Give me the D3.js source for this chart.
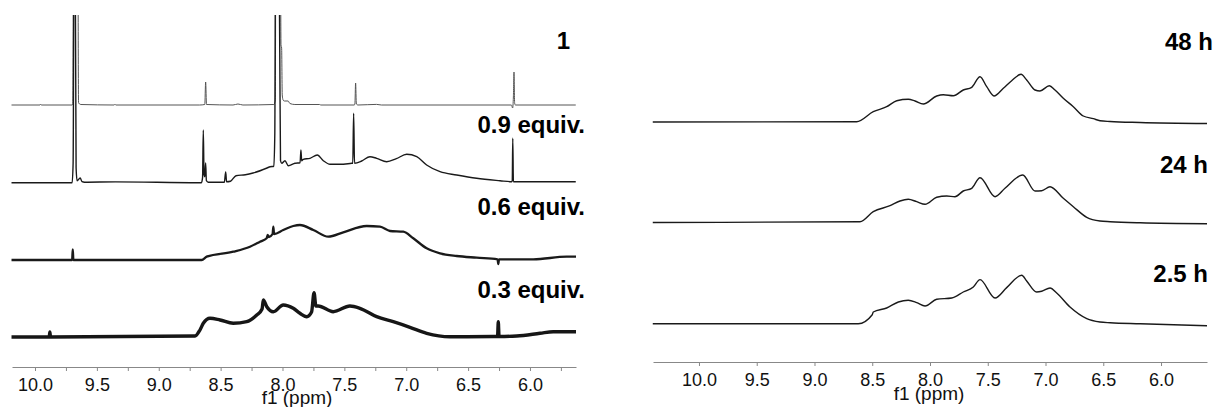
<!DOCTYPE html>
<html>
<head>
<meta charset="utf-8">
<script src="https://cdn.jsdelivr.net/npm/d3@7/dist/d3.min.js"></script>
<style>
  body { margin: 0; background: #fff; }
  svg { display: block; font-family: "Liberation Sans", Arial, Helvetica, sans-serif; }
</style>
</head>
<body>
<script>
//-----------------------------------------------------------------------------------
// data, [ppm, intensity] (intensity in baseline-relative units)
//-----------------------------------------------------------------------------------
var majorTicks = [10.0, 9.5, 9.0, 8.5, 8.0, 7.5, 7.0, 6.5, 6.0];
var minorTicks = [9.75, 9.25, 8.75, 8.25, 7.75, 7.25, 6.75, 6.25, 5.75];

var titrLabels = ["1", "0.9 equiv.", "0.6 equiv.", "0.3 equiv."];
var timeLabels = ["48 h", "24 h", "2.5 h"];

// pure compound 1
var spec1 = [[10.19,0],[9.96,0],[9.955,0.8],[9.95,0],[9.70,0],[9.695,1],[9.688,200],[9.655,200],[9.648,2],
  [9.63,0.5],[9.36,0],[9.354,0.8],[9.348,0],[8.67,0],[8.628,0.5],[8.621,23],[8.614,0.5],[8.40,0],
  [8.36,1],[8.32,0],[8.07,0.5],[8.058,5],[8.053,200],[8.018,200],[8.012,60],[8.007,57],[8.002,10],
  [7.995,5],[7.985,4],[7.955,4],[7.94,1.5],[7.90,0.5],[7.70,0.5],[7.69,0],[7.42,0],[7.415,1],
  [7.409,22],[7.403,1],[7.39,0],[7.24,0.6],[7.20,0],[6.15,0],[6.14,-3],[6.134,8],[6.129,33],
  [6.124,2],[6.118,0],[5.63,0]];

// 0.9 equiv.
var spec09 = [[10.19,0],[9.70,0],[9.692,20],[9.684,250],[9.676,250],[9.668,15],[9.66,2],[9.635,4.7],
  [9.62,1],[9.60,0.5],[9.35,0.8],[8.68,0],[8.655,0],[8.646,5],[8.640,52.7],[8.634,8],[8.628,6],
  [8.621,19.7],[8.615,2],[8.60,0.5],[8.47,0.5],[8.459,10.7],[8.452,1],[8.42,1.5],[8.376,7],[8.30,8],
  [8.238,9.7],[8.125,14.7],[8.10,16],[8.07,16.5],[8.062,50],[8.056,250],[8.030,250],[8.022,130],
  [8.016,22],[8.006,19.4],[7.980,22],[7.953,17],[7.899,19.4],[7.858,20],[7.851,32.7],[7.845,22],
  [7.832,23.4],[7.778,24.4],[7.719,27.7],[7.670,22],[7.616,18.4],[7.535,18.4],[7.441,19.4],
  [7.432,19.5],[7.425,69.4],[7.418,19.5],[7.360,21.7],[7.293,26],[7.239,24.4],[7.158,21],[7.08,24],
  [6.996,28.4],[6.915,26],[6.835,17.7],[6.727,11],[6.592,7.7],[6.431,4.4],[6.242,2],[6.148,1],
  [6.143,2],[6.139,44.4],[6.134,1],[6.10,1],[5.63,1]];

// 0.6 equiv.
var spec06 = [[10.19,0],[9.70,0],[9.695,10.7],[9.69,0],[8.653,0],[8.613,3.3],[8.398,8.3],[8.263,13.3],
  [8.182,18.3],[8.128,21.7],[8.12,25],[8.11,23],[8.08,26],[8.074,33.3],[8.068,26],[7.994,30],
  [7.913,34],[7.859,35],[7.751,30],[7.630,23.3],[7.509,27.7],[7.320,34],[7.212,33.3],[7.131,29],
  [7.024,28.3],[6.943,21.7],[6.835,11.7],[6.727,6.7],[6.592,4],[6.431,2.3],[6.262,0.7],[6.256,-4],
  [6.25,0.7],[5.973,0.7],[5.703,3.3],[5.628,3.3]];

// 0.3 equiv.
var spec03 = [[10.19,0],[9.885,0],[9.88,5],[9.875,0],[8.707,1],[8.667,7],[8.640,13.7],[8.586,18.7],
  [8.505,17],[8.398,13.7],[8.289,15.3],[8.208,22],[8.165,28],[8.155,37],[8.127,30.3],[8.074,25.3],
  [7.994,32],[7.913,28.7],[7.859,23.7],[7.804,20.3],[7.765,25],[7.745,44.3],[7.73,31],[7.711,31],
  [7.590,25.3],[7.455,31],[7.374,28.7],[7.239,20.3],[7.105,15.3],[6.970,9.7],[6.835,3.7],
  [6.646,0.3],[6.511,0.3],[6.262,0.5],[6.256,15.3],[6.25,0.5],[6.107,1],[5.919,3.7],[5.812,5.3],
  [5.628,5.3]];

// 48 h
var spec48 = [[10.40,0],[8.635,0.3],[8.491,10.3],[8.375,15.3],[8.288,21.3],[8.188,22.7],[8.130,21],
  [8.058,18],[7.942,26],[7.885,27.3],[7.798,26.3],[7.712,32],[7.639,34.7],[7.567,45.3],[7.509,35.3],
  [7.446,26],[7.365,33.7],[7.293,41.3],[7.212,47.7],[7.163,42],[7.091,32],[7.048,31],[6.967,36.3],
  [6.918,32],[6.846,23.7],[6.759,15.3],[6.673,6],[6.586,3.3],[6.528,1.3],[6.442,0.5],[6.182,-0.5],
  [5.602,-1.5]];

// 24 h
var spec24 = [[10.40,0],[8.606,0.8],[8.491,10.8],[8.346,16.8],[8.260,21.5],[8.188,23.2],[8.115,20.8],
  [8.043,18.2],[7.942,25.2],[7.855,26.5],[7.784,25.8],[7.712,31.5],[7.639,34.2],[7.567,44.8],
  [7.437,25.8],[7.351,34.2],[7.197,47.5],[7.091,31.5],[7.033,31.8],[6.961,35.8],[6.846,24.2],
  [6.759,15.8],[6.643,5.2],[6.528,1.5],[6.44,0.8],[6.18,-0.3],[5.602,-1.2]];

// 2.5 h
var spec25 = [[10.40,0],[8.621,0],[8.50,9],[8.491,11.8],[8.375,15.8],[8.274,21.8],[8.188,23.5],
  [8.115,21.2],[8.043,17.8],[7.942,24.5],[7.812,25.8],[7.712,31.8],[7.625,36.8],[7.567,44.2],
  [7.437,25.8],[7.336,36.2],[7.206,48.5],[7.163,42.8],[7.077,31.8],[7.033,32.5],[6.961,35.8],
  [6.903,30.8],[6.788,16.8],[6.643,5.2],[6.528,1.8],[6.44,1],[6.18,0],[5.602,-2]];

var titrSpectra = [spec1, spec09, spec06, spec03];
var timeSpectra = [spec48, spec24, spec25];

//-----------------------------------------------------------------------------------
// layout
//-----------------------------------------------------------------------------------
var width = 1215, height = 407;
var titrBase = [105, 182.7, 260, 337];
// noisy traces get a wider stroke to stand in for the noise band
var titrStroke = [{c:"#555", w:1}, {c:"#1a1a1a", w:1.4}, {c:"#1a1a1a", w:2.3}, {c:"#161616", w:3.4}];
var titrLabelPos = [{x:570, y:49}, {x:585, y:133}, {x:585, y:215}, {x:585, y:298}];
var timeBase = [122, 222.5, 323.8];
var timeLabelPos = [{x:1213, y:50}, {x:1208, y:173}, {x:1208, y:282}];

var svg = d3.select("body").append("svg")
            .attr("width", width)
            .attr("height", height);

svg.append("clipPath")
   .attr("id", "leftClip")
   .append("rect")
   .attr("x", 0)
   .attr("y", 15)
   .attr("width", 600)
   .attr("height", height);

var xLeft = d3.scaleLinear().domain([10.186, 5.628]).range([12, 576]);
var xRight = d3.scaleLinear().domain([10.398, 5.602]).range([653, 1207]);

//-----------------------------------------------------------------------------------
// draw a stack of spectra
//-----------------------------------------------------------------------------------
const drawStack = function(g, x, spectra, bases, strokes){
	spectra.forEach(function(spec, i){
		var y = d3.scaleLinear().domain([0, 100]).range([bases[i], bases[i] - 100]);
		var line = d3.line()
		             .x(function(d){ return x(d[0]); })
		             .y(function(d){ return y(d[1]); })
		             .curve(d3.curveMonotoneX);
		g.append("path")
		 .datum(spec)
		 .attr("d", line)
		 .attr("fill", "none")
		 .attr("stroke", strokes[i].c)
		 .attr("stroke-width", strokes[i].w)
		 .attr("stroke-linejoin", "round");
	});
}

const drawLabels = function(labels, pos){
	svg.selectAll(null)
	   .data(labels)
	   .enter()
	   .append("text")
	   .attr("x", function(d, i){ return pos[i].x; })
	   .attr("y", function(d, i){ return pos[i].y; })
	   .attr("text-anchor", "end")
	   .style("font-size", "24px")
	   .style("font-weight", "bold")
	   .style("fill", "#000")
	   .text(function(d){ return d; });
}

const drawAxis = function(x, yPos, ticks, labelX, labelY){
	var axis = d3.axisBottom(x)
	             .tickValues(ticks)
	             .tickSize(4)
	             .tickSizeOuter(0)
	             .tickPadding(7)
	             .tickFormat(function(d){ return majorTicks.indexOf(d) >= 0 ? d.toFixed(1) : ""; });
	var g = svg.append("g")
	           .attr("transform", "translate(0," + yPos + ")")
	           .call(axis);
	g.select(".domain").attr("stroke", "#888");
	g.selectAll(".tick line").attr("stroke", "#888");
	g.selectAll(".tick text")
	 .style("font-size", "18px")
	 .style("font-family", "'Liberation Sans', Arial, Helvetica, sans-serif")
	 .style("fill", "#111");

	svg.append("text")
	   .attr("x", labelX)
	   .attr("y", labelY)
	   .attr("text-anchor", "middle")
	   .style("font-size", "19px")
	   .style("fill", "#111")
	   .text("f1 (ppm)");
}

var leftG = svg.append("g").attr("clip-path", "url(#leftClip)");
drawStack(leftG, xLeft, titrSpectra, titrBase, titrStroke);

var rightG = svg.append("g");
drawStack(rightG, xRight, timeSpectra, timeBase, [{c:"#1a1a1a", w:1.4}, {c:"#1a1a1a", w:1.4}, {c:"#1a1a1a", w:1.4}]);

drawLabels(titrLabels, titrLabelPos);
drawLabels(timeLabels, timeLabelPos);

drawAxis(xLeft, 367, majorTicks.concat(minorTicks), 297, 404);
drawAxis(xRight, 362, majorTicks, 929, 400);
</script>
</body>
</html>
